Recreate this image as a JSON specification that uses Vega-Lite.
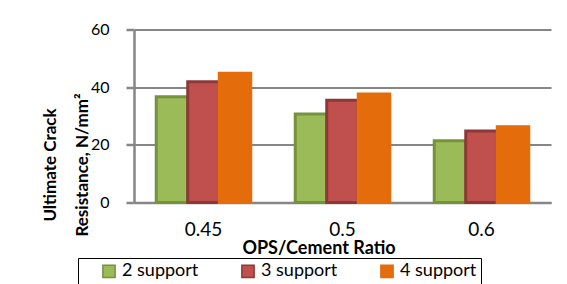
{
  "$schema": "https://vega.github.io/schema/vega-lite/v6.json",
  "autosize": {"type": "none"},
  "width": 417,
  "height": 173,
  "padding": {"left": 134, "top": 29.5, "right": 16, "bottom": 81.5},
  "background": "white",
  "config": {
    "view": {"stroke": null},
    "font": "Lato",
    "axis": {"labelFont": "Lato", "titleFont": "Lato", "labelColor": "black", "titleColor": "black"},
    "legend": {"labelFont": "Lato"}
  },
  "data": {
    "values": [
      {"ratio": "0.45", "series": "2 support", "value": 36.7},
      {"ratio": "0.45", "series": "3 support", "value": 41.9},
      {"ratio": "0.45", "series": "4 support", "value": 44.8},
      {"ratio": "0.5", "series": "2 support", "value": 30.7},
      {"ratio": "0.5", "series": "3 support", "value": 35.5},
      {"ratio": "0.5", "series": "4 support", "value": 37.6},
      {"ratio": "0.6", "series": "2 support", "value": 21.4},
      {"ratio": "0.6", "series": "3 support", "value": 24.8},
      {"ratio": "0.6", "series": "4 support", "value": 26.3}
    ]
  },
  "mark": {"type": "bar", "strokeWidth": 3},
  "encoding": {
    "x": {
      "field": "ratio",
      "type": "nominal",
      "sort": null,
      "scale": {"paddingInner": 0.32, "paddingOuter": 0.16},
      "axis": {
        "title": "OPS/Cement Ratio",
        "titleFontSize": 18,
        "titleFontWeight": "bold",
        "titleX": 184.5,
        "titleY": 50.5,
        "titleBaseline": "alphabetic",
        "labelAngle": 0,
        "labelFontSize": 19,
        "labelPadding": 18,
        "ticks": false,
        "domainColor": "#868686",
        "domainWidth": 2.5
      }
    },
    "xOffset": {"field": "series", "type": "nominal", "scale": {"paddingInner": 0, "paddingOuter": 0}},
    "y": {
      "field": "value",
      "type": "quantitative",
      "scale": {"domain": [0, 60], "nice": false},
      "axis": {
        "values": [0, 20, 40, 60],
        "title": ["Ultimate Crack", "Resistance, N/mm²"],
        "titleFontSize": 17,
        "titleFontWeight": "bold",
        "titleAngle": -90,
        "titleAlign": "center",
        "titleBaseline": "middle",
        "titleLineHeight": 32,
        "titleX": -84,
        "titleY": 135,
        "labelFontSize": 16,
        "labelPadding": 17,
        "tickSize": 8,
        "tickWidth": 2.5,
        "tickColor": "#868686",
        "domainColor": "#868686",
        "domainWidth": 2.5,
        "grid": true,
        "gridColor": "#868686",
        "gridWidth": 2
      }
    },
    "fill": {
      "field": "series",
      "type": "nominal",
      "scale": {"domain": ["2 support", "3 support", "4 support"], "range": ["#9BBB59", "#C0504D", "#E46C0A"]},
      "legend": {
        "title": null,
        "orient": "none",
        "direction": "horizontal",
        "legendX": -56,
        "legendY": 228.5,
        "strokeColor": "black",
        "padding": 4,
        "symbolType": "square",
        "symbolSize": 150,
        "symbolOffset": 18,
        "labelFontSize": 18,
        "labelOffset": 4,
        "columnPadding": 22
      }
    },
    "stroke": {
      "field": "series",
      "type": "nominal",
      "scale": {"domain": ["2 support", "3 support", "4 support"], "range": ["#76923C", "#8C3836", "#E46C0A"]},
      "legend": null
    }
  }
}
